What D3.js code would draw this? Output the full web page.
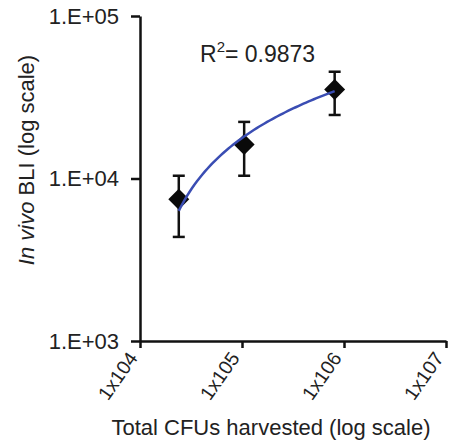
<!DOCTYPE html>
<html>
<head>
<meta charset="utf-8">
<script src="https://cdn.jsdelivr.net/npm/d3@7"></script>
<style>
  body { margin: 0; background: #fff; }
  text { font-family: "Liberation Sans", Arial, sans-serif; fill: #222; }
</style>
</head>
<body>
<div id="chart"></div>
<script>
// data
var cfus = [2.4e4, 1.05e5, 8.1e5];
var bli = [7450, 16200, 35300];
var bliLow = [4370, 10400, 24600];
var bliHigh = [10400, 22300, 45400];
var yTicks = [1e3, 1e4, 1e5];
var xTicks = [1e4, 1e5, 1e6, 1e7];
var r2Label = "0.9873";

var W = 449, H = 446;
var svg = d3.select('#chart').append('svg')
    .attr('width', W)
    .attr('height', H);

var xScale = d3.scaleLog().domain([1e4, 1e7]).range([140, 446]);
var yScale = d3.scaleLog().domain([1e3, 1e5]).range([341, 16]);

// y axis
var yAxis = d3.axisLeft(yScale)
    .tickValues(yTicks)
    .tickSize(9)
    .tickSizeOuter(0)
    .tickPadding(12)
    .tickFormat(function (d) { return '1.E+0' + Math.round(Math.log10(d)); });

var gy = svg.append('g')
    .attr('transform', 'translate(140,0)')
    .call(yAxis);
gy.selectAll('path, line').attr('stroke', '#111').attr('stroke-width', 2.5);
gy.selectAll('text').attr('font-size', 22).attr('fill', '#222')
    .style('font-family', '"Liberation Sans", Arial, sans-serif');

// x axis
var xAxis = d3.axisBottom(xScale)
    .tickValues(xTicks)
    .tickSize(7)
    .tickSizeOuter(0)
    .tickFormat(function (d) { return '1x10' + Math.round(Math.log10(d)); });

var gx = svg.append('g')
    .attr('transform', 'translate(0,341)')
    .call(xAxis);
gx.selectAll('path, line').attr('stroke', '#111').attr('stroke-width', 2.5);
gx.selectAll('text')
    .attr('font-size', 19.5)
    .attr('fill', '#222')
    .style('font-family', '"Liberation Sans", Arial, sans-serif')
    .attr('text-anchor', 'end')
    .attr('x', 0)
    .attr('y', 0)
    .attr('dy', 0)
    .attr('transform', 'translate(-2,17) rotate(-55)');

// logarithmic trend line  y = a + b ln(x)
var lx = cfus.map(function (d) { return Math.log(d); });
var mx = d3.mean(lx), my = d3.mean(bli);
var sxy = d3.sum(lx, function (d, i) { return (d - mx) * (bli[i] - my); });
var sxx = d3.sum(lx, function (d) { return (d - mx) * (d - mx); });
var b = sxy / sxx, a = my - b * mx;
var fit = d3.range(0, 61).map(function (i) {
    var x = Math.exp(lx[0] + (lx[2] - lx[0]) * i / 60);
    return [x, a + b * Math.log(x)];
});

// error bars
var pts = cfus.map(function (d, i) {
    return { x: d, y: bli[i], lo: bliLow[i], hi: bliHigh[i] };
});
var eb = svg.selectAll('.err').data(pts).enter().append('g').attr('class', 'err');
eb.append('line')
    .attr('x1', d => xScale(d.x)).attr('x2', d => xScale(d.x))
    .attr('y1', d => yScale(d.lo)).attr('y2', d => yScale(d.hi))
    .attr('stroke', '#111').attr('stroke-width', 2.5);
eb.append('line')
    .attr('x1', d => xScale(d.x) - 6).attr('x2', d => xScale(d.x) + 6)
    .attr('y1', d => yScale(d.lo)).attr('y2', d => yScale(d.lo))
    .attr('stroke', '#111').attr('stroke-width', 2.5);
eb.append('line')
    .attr('x1', d => xScale(d.x) - 6).attr('x2', d => xScale(d.x) + 6)
    .attr('y1', d => yScale(d.hi)).attr('y2', d => yScale(d.hi))
    .attr('stroke', '#111').attr('stroke-width', 2.5);

// diamonds
svg.selectAll('.pt').data(pts).enter().append('path')
    .attr('class', 'pt')
    .attr('d', d3.symbol(d3.symbolSquare).size(220))
    .attr('transform', d => 'translate(' + xScale(d.x) + ',' + yScale(d.y) + ') rotate(45)')
    .attr('fill', '#0a0a0a');

svg.append('path')
    .datum(fit)
    .attr('d', d3.line().x(d => xScale(d[0])).y(d => yScale(d[1])))
    .attr('fill', 'none')
    .attr('stroke', '#3a4db3')
    .attr('stroke-width', 2.5);

// R squared
var r2 = svg.append('text')
    .attr('x', 200)
    .attr('y', 62)
    .attr('font-size', 23);
r2.append('tspan').text('R');
r2.append('tspan').attr('font-size', 15).attr('dy', -10).text('2');
r2.append('tspan').attr('dy', 10).text('= ' + r2Label);

// axis titles
svg.append('text')
    .attr('x', 271)
    .attr('y', 435)
    .attr('text-anchor', 'middle')
    .attr('font-size', 22)
    .text('Total CFUs harvested (log scale)');

var yt = svg.append('text')
    .attr('transform', 'translate(34,160) rotate(-90)')
    .attr('text-anchor', 'middle')
    .attr('font-size', 22);
yt.append('tspan').attr('font-style', 'italic').text('In vivo');
yt.append('tspan').text(' BLI (log scale)');
</script>
</body>
</html>
